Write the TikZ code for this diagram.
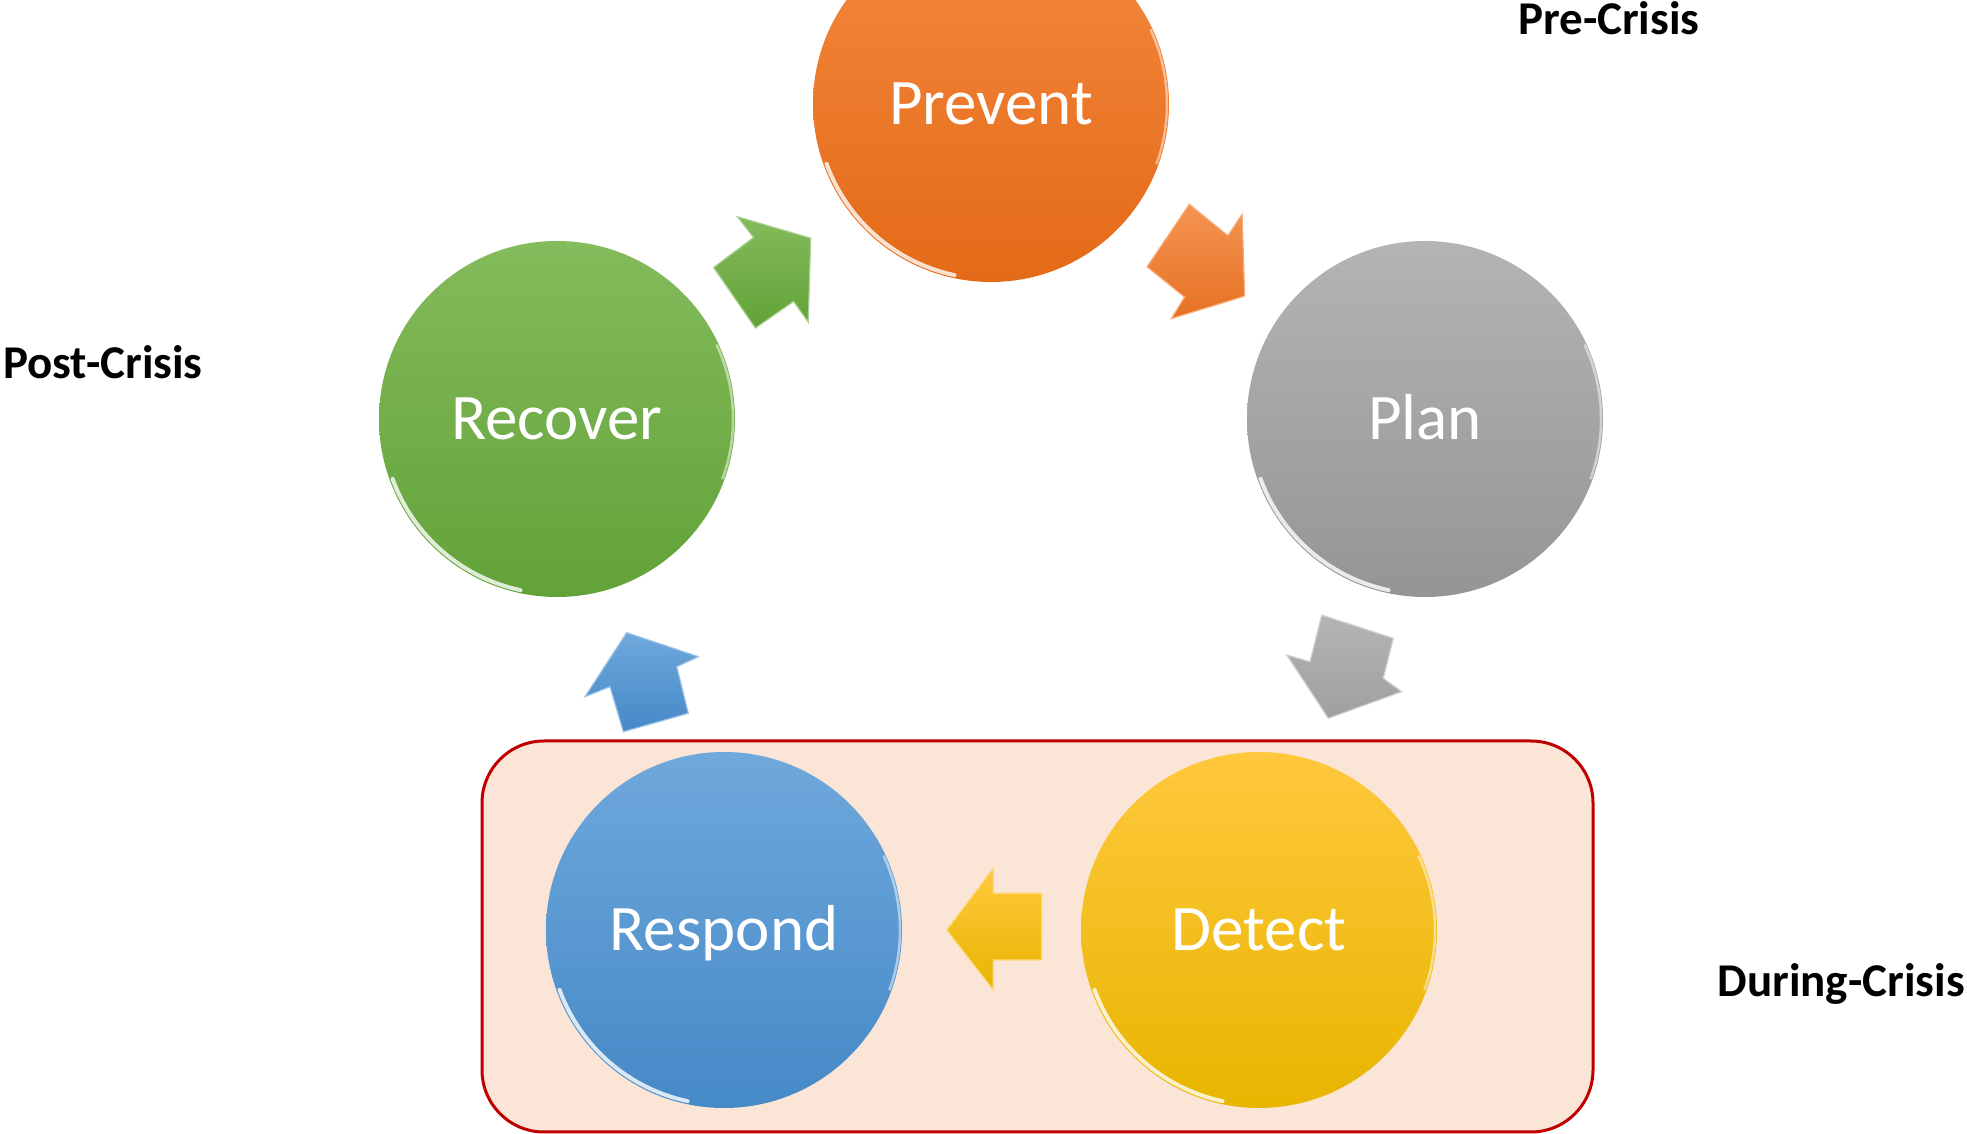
\documentclass[tikz,border=0pt]{standalone}
\usepackage{fontspec}
\setmainfont{Carlito}
\definecolor{prevTop}{HTML}{F4883F}
\definecolor{prevBot}{HTML}{E46A17}
\definecolor{planTop}{HTML}{B4B4B4}
\definecolor{planBot}{HTML}{959595}
\definecolor{detTop}{HTML}{FFC83D}
\definecolor{detBot}{HTML}{E8B500}
\definecolor{respTop}{HTML}{6FA8DC}
\definecolor{respBot}{HTML}{4589C7}
\definecolor{recTop}{HTML}{84BB5C}
\definecolor{recBot}{HTML}{62A238}
\definecolor{boxFill}{HTML}{FAE5D7}
\definecolor{boxLine}{HTML}{C00000}
\begin{document}
\begin{tikzpicture}[x=1pt,y=1pt,
  phase/.style={circle, minimum size=356pt, inner sep=0pt, text=white,
    font=\fontsize{65}{70}\selectfont, text height=42pt, text depth=0pt},
  rim/.style={white, opacity=.8, line width=4pt, line cap=round},
  blockarrow/.style={line width=1.2pt, line join=miter},
  crisis/.style={font=\fontsize{47}{50}\selectfont\bfseries, inner sep=0pt, text=black}]
\useasboundingbox (0,0) rectangle (1967,1134);
\clip (0,0) rectangle (1967,1134);

% during-crisis box
\draw[boxLine, fill=boxFill, line width=3pt, rounded corners=62pt] (482,2) rectangle (1593,393);

% phases
\node[phase, top color=prevTop, bottom color=prevBot] (prevent) at (991,1030) {Prevent};
\node[phase, top color=planTop, bottom color=planBot] (plan) at (1425,715) {Plan};
\node[phase, top color=detTop, bottom color=detBot] (detect) at (1259,204) {Detect};
\node[phase, top color=respTop, bottom color=respBot] (respond) at (724,204) {Respond};
\node[phase, top color=recTop, bottom color=recBot] (recover) at (557,715) {Recover};

% bevel highlights
\foreach \c in {prevent,plan,detect,respond,recover}{
  \draw[rim] ([shift={(200:175)}]\c.center) arc[start angle=200,end angle=258,radius=175];
  \draw[white, opacity=.5, line width=2.5pt] ([shift={(-20:176)}]\c.center) arc[start angle=-20,end angle=25,radius=176];
}

% block arrows
\draw[blockarrow, draw=recTop!70!white, top color=recTop, bottom color=recBot]
  (810.7,895.8) -- (737.5,917.2) -- (753.6,896.5) -- (713.6,866.5) -- (755.4,806) -- (793.6,832.6) -- (808.2,811.9) -- cycle;
\draw[blockarrow, draw=prevTop!70!white, top color=prevTop!90!white, bottom color=prevBot!95!white]
  (1244.6,837.9) -- (1242.1,919.7) -- (1227.9,898.3) -- (1189.3,929.7) -- (1147.1,867.2) -- (1184.6,836.9) -- (1171.4,815.4) -- cycle;
\draw[blockarrow, draw=planTop!60!white, top color=planTop, bottom color=planBot!90!white]
  (1328.3,415.7) -- (1286.7,479) -- (1310,472.3) -- (1321.7,519) -- (1393.3,495.7) -- (1383.3,455.7) -- (1401.7,442.3) -- cycle;
\draw[blockarrow, draw=respTop!70!white, top color=respTop, bottom color=respBot]
  (626.7,501.3) -- (698.3,477.3) -- (676.7,467.3) -- (688.3,420.7) -- (623.3,402.3) -- (610,447.3) -- (585,437.3) -- cycle;
\draw[blockarrow, draw=detTop!70!white, top color=detTop, bottom color=detBot]
  (946.7,204) -- (993.3,265.7) -- (993.3,240.7) -- (1041.7,240.7) -- (1041.7,174) -- (993.3,174) -- (993.3,144) -- cycle;

% crisis labels
\node[crisis, anchor=base west] (pre) at (1518,1099) {Pre-Crisis};
\node[crisis, anchor=base west] (post) at (3,755) {Post-Crisis};
\node[crisis, anchor=base east] (during) at (1965,137) {During-Crisis};
\end{tikzpicture}
\end{document}
